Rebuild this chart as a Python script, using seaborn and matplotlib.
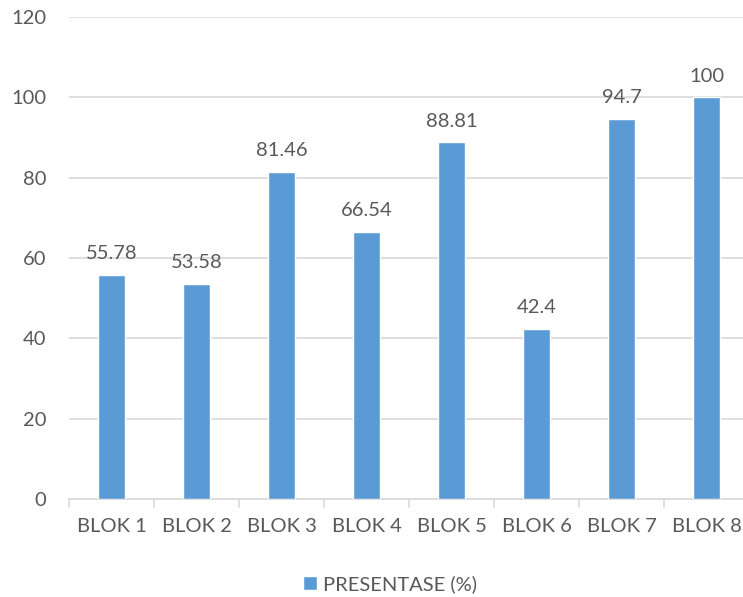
import numpy as np
import pandas as pd
import seaborn as sns
import matplotlib.pyplot as plt

categories = ["BLOK 1", "BLOK 2", "BLOK 3", "BLOK 4", "BLOK 5", "BLOK 6", "BLOK 7", "BLOK 8"]
presentase = [55.78, 53.58, 81.46, 66.54, 88.81, 42.4, 94.7, 100]
value_labels = ["55.78", "53.58", "81.46", "66.54", "88.81", "42.4", "94.7", "100"]
y_ticks = [0, 20, 40, 60, 80, 100, 120]
series_name = "PRESENTASE (%)"

bar_color = "#5B9BD5"
text_color = "#595959"
grid_color = "#D9D9D9"

sns.set_style("white")
plt.rcParams["font.family"] = ["Lato", "DejaVu Sans"]

df = pd.DataFrame({"blok": categories, "nilai": presentase})

fig = plt.figure(figsize=(7.43, 5.97), dpi=100)
ax = fig.add_axes([69 / 743, 1 - 499 / 597, 680 / 743, (499 - 17) / 597])

sns.barplot(data=df, x="blok", y="nilai", color=bar_color, width=0.32,
            saturation=1, ax=ax, zorder=3, label=series_name)

ax.set_ylim(0, 120)
ax.set_xlim(-0.5, len(categories) - 0.5)
ax.set_yticks(y_ticks)
ax.yaxis.grid(True, color=grid_color, linewidth=1.2, zorder=0)
ax.set_axisbelow(True)

for s in ["top", "right", "left"]:
    ax.spines[s].set_visible(False)
ax.spines["bottom"].set_color(grid_color)
ax.spines["bottom"].set_linewidth(1.2)

ax.set_xlabel("")
ax.set_ylabel("")
ax.tick_params(axis="y", length=0, pad=16.5, labelsize=14.5, labelcolor=text_color)
ax.tick_params(axis="x", length=0, pad=14, labelsize=14.5, labelcolor=text_color)

# tick marks at category boundaries
for b in np.arange(-0.5, len(categories), 1.0):
    ax.plot([b, b], [0, -2.0], color=grid_color, linewidth=1.2, clip_on=False, zorder=2)

for i, (v, lab) in enumerate(zip(presentase, value_labels)):
    ax.annotate(lab, (i, v), xytext=(0, 9), textcoords="offset points",
                ha="center", va="bottom", fontsize=14.5, color=text_color)

leg = ax.legend(loc="center", bbox_to_anchor=(390 / 743, 1 - 584 / 597),
                bbox_transform=fig.transFigure, frameon=False, fontsize=14.5,
                handlelength=0.7, handleheight=0.7, handletextpad=0.3)
for t in leg.get_texts():
    t.set_color(text_color)

fig.savefig("out.png", dpi=100)
